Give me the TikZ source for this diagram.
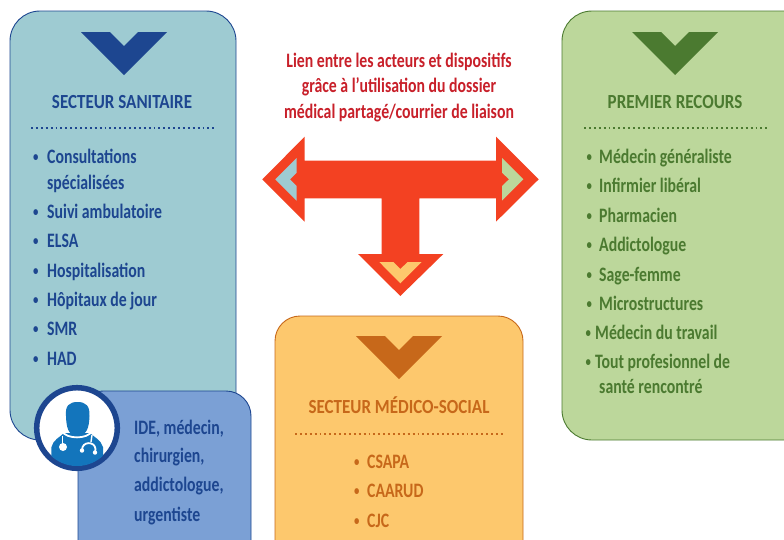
\documentclass[tikz,border=0pt]{standalone}
\usepackage{fontspec}
\setmainfont[FakeStretch=0.77,BoldFont=Carlito Bold]{Carlito}
\newfontfamily\titlefont[FakeStretch=0.85,BoldFont=Carlito Bold]{Carlito}
\definecolor{teal}{HTML}{9ECBD2}
\definecolor{navy}{HTML}{1D4690}
\definecolor{boxblue}{HTML}{7BA0D5}
\definecolor{docblue}{HTML}{1375BC}
\definecolor{softorange}{HTML}{FDC86D}
\definecolor{brown}{HTML}{C7681A}
\definecolor{softgreen}{HTML}{BCD79B}
\definecolor{darkgreen}{HTML}{4B7A30}
\definecolor{arrowred}{HTML}{F34122}
\definecolor{textred}{HTML}{C8202A}
\tikzset{
  x=1pt,y=-1pt,
  panel/.style={line width=0.9pt,rounded corners=30pt},
  txt/.style={inner sep=0pt,anchor=base west,font=\fontsize{20.5}{22}\selectfont\bfseries},
  centred/.style={inner sep=0pt,anchor=base,font=\fontsize{20.5}{22}\selectfont\bfseries},
  head/.style={inner sep=0pt,anchor=base,font=\titlefont\fontsize{20}{22}\selectfont\bfseries},
  dots/.style={line width=1.9pt,dash pattern=on 1.9pt off 3pt},
}
\newcommand{\chev}[3]{\fill[#3] (#1-43,#2) -- (#1-14,#2) -- (#1,#2+14) -- (#1+14,#2) -- (#1+43,#2) -- (#1,#2+43) -- cycle;}
\newcommand{\bul}{\raisebox{1.8pt}{\fontsize{14}{14}\selectfont •}}
\begin{document}
\begin{tikzpicture}
\useasboundingbox (0,0) rectangle (784,539);
\clip (0,0) rectangle (784,539);
% panels
\draw[panel,fill=teal,draw=navy] (10,11) rectangle (236,440);
\draw[panel,fill=boxblue,draw=navy,rounded corners=25pt] (78,391) rectangle (251,570);
\draw[panel,fill=softorange,draw=brown,rounded corners=25pt] (275,316) rectangle (523,570);
\draw[panel,fill=softgreen,draw=darkgreen] (562,11) rectangle (820,440);
% chevrons
\chev{124}{32}{navy}
\chev{675}{32}{darkgreen}
\chev{399}{336}{brown}
% T arrow
\fill[arrowred] (262.3,179.3) -- (304.7,136.7) -- (304.7,160.7) -- (496,160.7) -- (496,136.7) -- (538.7,179.3) -- (496,221.7) -- (496,198.3) -- (419.3,198.3) -- (419.3,254) -- (443.3,254) -- (400.3,296) -- (358,254) -- (381.7,254) -- (381.7,198.3) -- (304.7,198.3) -- (304.7,221.7) -- cycle;
\fill[teal] (275.3,179.3) -- (296.7,158) -- (296.7,172.7) -- (290,179.3) -- (296.7,186) -- (296.7,200.7) -- cycle;
\fill[softgreen] (523.3,179.3) -- (502,158) -- (502,172.7) -- (509,179.3) -- (502,186) -- (502,200.7) -- cycle;
\fill[softorange] (400.3,283.3) -- (379.3,262) -- (393.3,262) -- (400.3,269) -- (407.7,262) -- (421.7,262) -- cycle;
% dotted rules
\coordinate (ra) at (31,128); \coordinate (rb) at (215,128);
\coordinate (rc) at (584,128); \coordinate (rd) at (768,128);
\coordinate (re) at (295,434); \coordinate (rf) at (503,434);
\draw[dots,navy] (ra) -- (rb);
\draw[dots,darkgreen] (rc) -- (rd);
\draw[dots,brown] (re) -- (rf);
% centre text
\node[centred,textred] (c1) at (399,67.5) {Lien entre les acteurs et dispositifs};
\node[centred,textred] (c2) at (399,92.5) {grâce à l’utilisation du dossier};
\node[centred,textred] (c3) at (399,118.5) {médical partagé/courrier de liaison};
% titles
\node[head,navy] (t1) at (122,108) {SECTEUR SANITAIRE};
\node[head,darkgreen] (t2) at (675,108) {PREMIER RECOURS};
\node[head,brown] (t3) at (399,413) {SECTEUR MÉDICO-SOCIAL};
% sanitaire list
\begin{scope}[every node/.style={txt,text=navy}]
\node (s0) at (33,163.5) {\bul}; \node (s1) at (47,163.5) {Consultations};
\node (s2) at (47,189.5) {spécialisées};
\node (s3b) at (33,218.5) {\bul}; \node (s3) at (47,218.5) {Suivi ambulatoire};
\node (s4b) at (33,247.5) {\bul}; \node (s4) at (47,247.5) {ELSA};
\node (s5b) at (33,277.5) {\bul}; \node (s5) at (47,277.5) {Hospitalisation};
\node (s6b) at (33,306.5) {\bul}; \node (s6) at (47,306.5) {Hôpitaux de jour};
\node (s7b) at (33,335.5) {\bul}; \node (s7) at (47,335.5) {SMR};
\node (s8b) at (33,365.5) {\bul}; \node (s8) at (47,365.5) {HAD};
\node (b1) at (134,434.5) {IDE, médecin,};
\node (b2) at (134,462.5) {chirurgien,};
\node (b3) at (134,491.5) {addictologue,};
\node (b4) at (134,521.5) {urgentiste};
\end{scope}
% premier recours list
\begin{scope}[every node/.style={txt,text=darkgreen}]
\node (g1b) at (586.5,163.5) {\bul}; \node (g1) at (599,163.5) {Médecin généraliste};
\node (g2b) at (586.5,192.5) {\bul}; \node (g2) at (599,192.5) {Infirmier libéral};
\node (g3b) at (586.5,222.5) {\bul}; \node (g3) at (599,222.5) {Pharmacien};
\node (g4b) at (586.5,251.5) {\bul}; \node (g4) at (599,251.5) {Addictologue};
\node (g5b) at (586.5,281.5) {\bul}; \node (g5) at (599,281.5) {Sage-femme};
\node (g6b) at (586.5,310.5) {\bul}; \node (g6) at (599,310.5) {Microstructures};
\node (g7b) at (585.5,339.5) {\bul}; \node (g7) at (595,339.5) {Médecin du travail};
\node (g8b) at (585.5,368.5) {\bul}; \node (g8) at (595,368.5) {Tout profesionnel de};
\node (g9) at (599,393.5) {santé rencontré};
\end{scope}
% medico-social list
\begin{scope}[every node/.style={txt,text=brown}]
\node (o1b) at (354,468.5) {\bul}; \node (o1) at (367,468.5) {CSAPA};
\node (o2b) at (354,497.5) {\bul}; \node (o2) at (367,497.5) {CAARUD};
\node (o3b) at (354,527.5) {\bul}; \node (o3) at (367,527.5) {CJC};
\end{scope}
% doctor icon
\fill[white] (77,428) circle (40);
\draw[navy,line width=5.5pt] (77,428) circle (40.3);
\begin{scope}
\clip (77,428) circle (38);
\fill[docblue] (51,470) -- (51.5,447) .. controls (53,440) and (60,437) .. (64,433) -- (90,433) .. controls (94,437) and (101,440) .. (103,447) -- (103,470) -- cycle;
\draw[white,line width=1.8pt] (62,431) .. controls (66,439.5) and (88,439.5) .. (92,431);
\fill[docblue] (66,416) .. controls (65,406) and (69,402) .. (77.5,402) .. controls (86,402) and (90,406) .. (89.5,416) .. controls (89,428) and (87,435) .. (77.5,436) .. controls (68,435) and (66.5,428) .. (66,416) -- cycle;
\draw[white,line width=1.4pt] (62.5,436) -- (62.5,445);
\fill[white] (63,447) circle (4);
\draw[white,line width=1.8pt] (82,450) .. controls (82,441) and (95,441) .. (95.5,449) -- (95,452);
\draw[white,line width=1.4pt] (92,435) -- (91,442);
\fill[white] (82,450.5) circle (2.2); \fill[white] (95,452.5) circle (2.2);
\end{scope}
\end{tikzpicture}
\end{document}
